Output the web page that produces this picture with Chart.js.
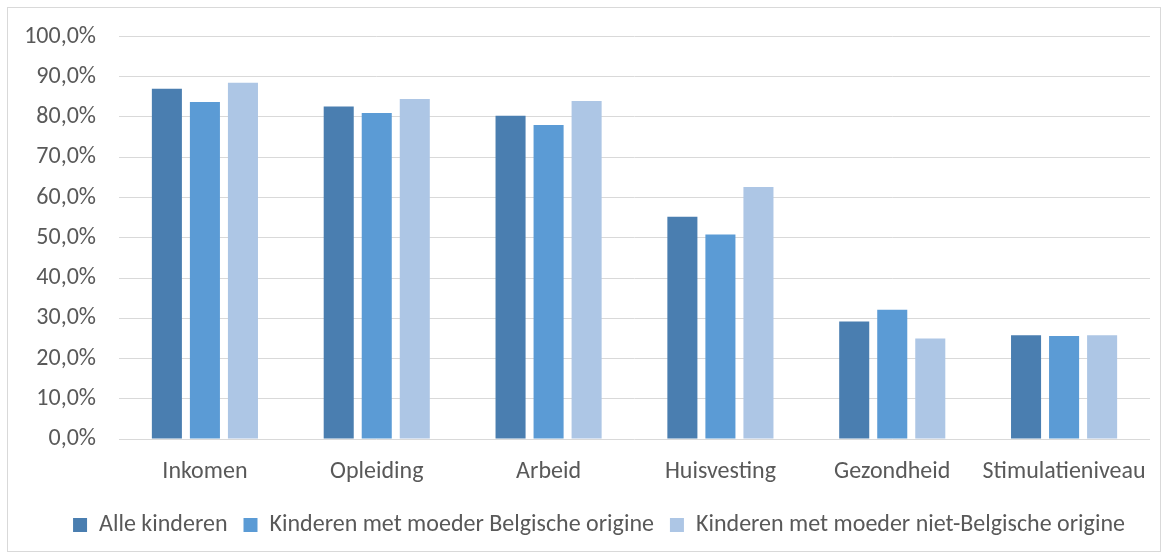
<!DOCTYPE html>
<html>
<head>
<meta charset="utf-8">
<script src="https://cdn.jsdelivr.net/npm/chart.js@4"></script>
<style>
    body { margin: 0; background: #fff; }
    #box {
        position: absolute; left: 7px; top: 7px;
        width: 1154px; height: 545px;
        border: 1px solid #D9D9D9; box-sizing: border-box;
    }
</style>
</head>
<body>
<div id="box"><canvas id="myChart"></canvas></div>
<script>
const categories = ["Inkomen", "Opleiding", "Arbeid", "Huisvesting", "Gezondheid", "Stimulatieniveau"]
const alleKinderen = [87.0, 82.6, 80.3, 55.2, 29.2, 25.8]
const moederBelgisch = [83.7, 81.0, 78.0, 50.8, 32.1, 25.6]
const moederNietBelgisch = [88.5, 84.5, 84.0, 62.6, 25.0, 25.8]
const yTicks = [0, 10, 20, 30, 40, 50, 60, 70, 80, 90, 100]

const fontFamily = "Carlito, Calibri, Lato, sans-serif"
const textColor = "#595959"

// schuift de legenda iets naar rechts, zoals in het origineel
const legendShift = {
    id: "legendShift",
    afterLayout(chart) {
        chart.legend.left += 20
        chart.legend.right += 20
    }
}

const ctx = document.getElementById("myChart")
new Chart(ctx, {
    type: "bar",
    data: {
        labels: categories,
        datasets: [
            { label: "Alle kinderen", data: alleKinderen, backgroundColor: "#4A7EB0" },
            { label: "Kinderen met moeder Belgische origine", data: moederBelgisch, backgroundColor: "#5B9BD5" },
            { label: "Kinderen met moeder niet-Belgische origine", data: moederNietBelgisch, backgroundColor: "#ADC6E5" }
        ]
    },
    plugins: [legendShift],
    options: {
        responsive: true,
        maintainAspectRatio: false,
        animation: false,
        layout: {
            autoPadding: false,
            padding: { top: 28.5, right: 10, left: 0, bottom: 4 }
        },
        datasets: {
            bar: { categoryPercentage: 0.664, barPercentage: 0.79 }
        },
        plugins: {
            tooltip: { enabled: false },
            legend: {
                position: "bottom",
                labels: {
                    color: textColor,
                    font: { family: fontFamily, size: 24 },
                    boxWidth: 14,
                    boxHeight: 14,
                    padding: 16
                }
            }
        },
        scales: {
            x: {
                grid: { display: false, drawTicks: false },
                border: { display: false },
                ticks: {
                    color: textColor,
                    font: { family: fontFamily, size: 24 },
                    padding: 19,
                    maxRotation: 0
                },
                afterFit: (scale) => {
                    scale.height = 58
                    scale.paddingLeft = 0
                    scale.paddingRight = 0
                }
            },
            y: {
                min: 0,
                max: 100,
                grid: { color: "#D9D9D9", lineWidth: 1, drawTicks: false },
                border: { display: false },
                afterBuildTicks: (scale) => { scale.ticks = yTicks.map(v => ({ value: v })) },
                ticks: {
                    color: textColor,
                    font: { family: fontFamily, size: 24 },
                    padding: 23,
                    callback: (v) => v.toFixed(1).replace(".", ",") + "%"
                },
                afterFit: (scale) => {
                    scale.width = 111
                    scale.paddingTop = 0
                    scale.paddingBottom = 0
                }
            }
        }
    }
})
</script>
</body>
</html>
